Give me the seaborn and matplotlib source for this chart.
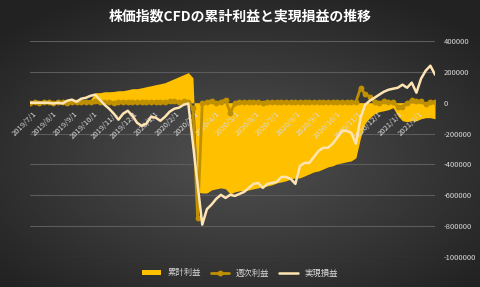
import numpy as np
import pandas as pd
import matplotlib
matplotlib.use("Agg")
import matplotlib.pyplot as plt
import matplotlib.dates as mdates
from matplotlib.colors import LinearSegmentedColormap
from matplotlib.patches import Patch
from matplotlib.lines import Line2D
import seaborn as sns

# weekly data, 2019/7/1 - 2021/3/1
dates = pd.date_range("2019-07-01", periods=88, freq="7D")

cum_profit = [0, 2000, 1000, 3000, 5000, 2000, 6000, 8000, 5000, 9000, 10000, 12000, 15000, 20000,
              65000, 65000, 71000, 71000, 73000, 78000, 78000, 84000, 91000, 91000, 97000, 104000,
              110000, 117000, 123000, 130000, 143000, 156000, 169000, 182000, 195000, 162000,
              -580000, -585000, -585000, -565000, -558000, -552000, -558000, -591000, -578000,
              -571000, -571000, -565000, -558000, -552000, -545000, -539000, -532000, -520000,
              -513000, -506000, -494000, -487000, -487000, -474000, -461000, -448000, -442000,
              -429000, -416000, -409000, -396000, -390000, -383000, -377000, -357000, -227000,
              -130000, -97000, -71000, -58000, -52000, -45000, -32000, -84000, -117000, -123000,
              -117000, -117000, -104000, -97000, -97000, -104000]

weekly_profit = [0, 5000, -3000, 4000, 2000, -2000, 6000, 3000, -4000, 5000, 2000, 4000, 6000, 3000,
                 8000, 5000, 2000, 3000, 1000, 5000, 4000, 6000, 2000, 3000, 5000, 6000, 4000, 5000,
                 7000, 4000, 8000, 10000, 6000, 8000, 2000, -35000,
                 -750000, -5000, 6000, 13000, 0, 6000, 20000, -65000, -5000, 2000,
                 4000, 2000, 6000, 3000, 1000, 5000, 2000, 4000, 3000, 5000, 2000, 4000, 3000, 5000,
                 2000, 3000, 4000, 2000, 5000, 3000, 2000, 4000, 3000, 2000, 4000,
                 95000, 55000, 40000, 5000, 0, 8000, 3000, 2000, -25000, -25000, -5000, 15000,
                 12000, 8000, -10000, 5000, 5000]

realized = [0, 0, 0, 0, 0, -5000, 0, -5000, 13000, 20000, 6000, 26000, 32000, 45000,
            52000, 20000, -13000, -39000, -71000, -110000, -71000, -52000, -84000, -130000,
            -150000, -136000, -91000, -97000, -117000, -91000, -58000, -39000, -32000, -13000,
            -5000, -265000,
            -530000, -790000, -690000, -660000, -623000, -597000, -617000, -597000, -604000,
            -591000, -578000, -552000, -526000, -520000, -552000, -526000, -520000, -513000,
            -481000, -481000, -494000, -526000, -409000, -390000, -390000, -351000, -312000,
            -292000, -292000, -266000, -227000, -182000, -182000, -195000, -266000, -97000,
            -13000, 13000, 32000, 52000, 71000, 84000, 91000, 97000, 117000, 97000, 130000,
            65000, 156000, 208000, 240000, 182000]

month_ticks = pd.date_range("2019-07-01", "2021-02-01", freq="MS")
y_ticks = [400000, 200000, 0, -200000, -400000, -600000, -800000, -1000000]

df = pd.DataFrame({"date": dates, "累計利益": cum_profit,
                   "週次利益": weekly_profit, "実現損益": realized})

sns.set_theme(style="dark")
plt.rcParams["font.family"] = ["Noto Sans CJK JP", "DejaVu Sans"]

GOLD = "#FFC000"
DARK_GOLD = "#BF9000"
CREAM = "#FFE5B4"
TXT = "#d9d9d9"

fig = plt.figure(figsize=(4.8, 2.87), dpi=100)

# dark radial background
bg = fig.add_axes([0, 0, 1, 1], zorder=-10)
yy, xx = np.mgrid[0:1:287j, 0:1:480j]
r = np.sqrt(((xx - 0.5) / 0.85) ** 2 + ((yy - 0.55) / 0.8) ** 2)
cm = LinearSegmentedColormap.from_list("bg", ["#4e4e4e", "#222222"])
bg.imshow(r, cmap=cm, vmin=0.05, vmax=0.8, aspect="auto")
bg.axis("off")

ax = fig.add_axes([0.0625, 0.1045, 0.8438, 0.7526])
ax.patch.set_alpha(0)

ax.fill_between(df["date"], 0, df["累計利益"], color=GOLD, lw=0, zorder=1)
sns.lineplot(data=df, x="date", y="週次利益", ax=ax, color=DARK_GOLD, lw=2,
             marker="o", markersize=4.2, markeredgewidth=0, zorder=3)
sns.lineplot(data=df, x="date", y="実現損益", ax=ax, color=CREAM, lw=1.8, zorder=4)

ax.set_xlim(pd.Timestamp("2019-07-01"), pd.Timestamp("2021-03-01"))
ax.set_ylim(-1000000, 400000)
ax.set_xlabel("")
ax.set_ylabel("")

ax.yaxis.tick_right()
ax.set_yticks(y_ticks)
ax.set_yticklabels([str(v) for v in y_ticks])
ax.tick_params(axis="y", colors=TXT, labelsize=5.5, length=0, pad=6)
ax.set_xticks([])
ax.grid(axis="y", color="#5c5c5c", lw=0.8)
ax.grid(axis="x", visible=False)
ax.set_axisbelow(True)
for s in ax.spines.values():
    s.set_visible(False)

# category labels sit at the zero line
for d in month_ticks:
    ax.annotate(f"{d.year}/{d.month}/{d.day}", xy=(mdates.date2num(d), 0),
                xytext=(2, -5), textcoords="offset points", rotation=45,
                ha="right", va="top", rotation_mode="anchor",
                fontsize=5.5, color=TXT, zorder=2)

fig.text(0.5, 1 - 16 / 287, "株価指数CFDの累計利益と実現損益の推移", ha="center", va="center",
         color="white", fontsize=10, fontweight="bold")

handles = [Patch(facecolor=GOLD, edgecolor="none"),
           Line2D([], [], color=DARK_GOLD, lw=2, marker="o", markersize=4.2, markeredgewidth=0),
           Line2D([], [], color=CREAM, lw=1.8)]
fig.legend(handles, ["累計利益", "週次利益", "実現損益"], loc="center",
           bbox_to_anchor=(0.5, 1 - 273 / 287), ncol=3, frameon=False, fontsize=6,
           labelcolor=TXT, handlelength=2.2, handleheight=0.6, columnspacing=1.2)

fig.savefig("out.png", dpi=100)
